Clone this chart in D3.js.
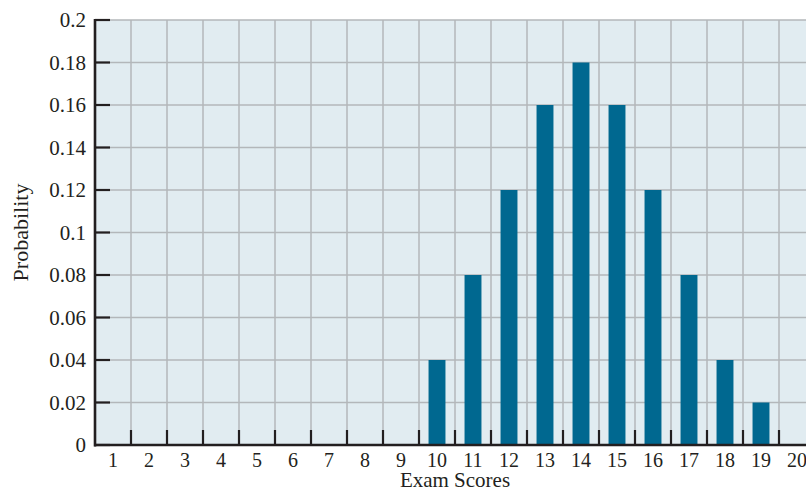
<!DOCTYPE html>
<html>
<head>
<meta charset="utf-8">
<script src="https://cdn.jsdelivr.net/npm/d3@7"></script>
<style>
  body { margin: 0; background: #fff; }
  svg { display: block; }
</style>
</head>
<body>
<div id="chart"></div>
<script>
// Exam score categories and their probabilities
var scores = d3.range(1, 21);
var probs = [0, 0, 0, 0, 0, 0, 0, 0, 0, 0.04, 0.08, 0.12, 0.16, 0.18, 0.16, 0.12, 0.08, 0.04, 0.02, 0];
var yTicks = [0, 0.02, 0.04, 0.06, 0.08, 0.1, 0.12, 0.14, 0.16, 0.18, 0.2];

var width = 806;
var height = 492;
var margin = ({ top: 20, right: -9, bottom: 47, left: 95 });

var bgFill = "#e1ecf1";
var gridStroke = "#b3b7ba";
var barFill = "#006890";
var axisStroke = "#231f20";
var font = "'Liberation Serif', 'Times New Roman', serif";

var data = scores.map(function (s, i) { return { score: s, p: probs[i] }; });

var x = d3.scaleBand()
    .domain(scores)
    .range([margin.left, width - margin.right])
    .paddingInner(0.53)
    .paddingOuter(0.265);

// band edges for the grid (full cells)
var step = x.step();
var cellLeft = d => margin.left + (scores.indexOf(d)) * step;

var y = d3.scaleLinear()
    .domain([0, 0.2])
    .range([height - margin.bottom, margin.top]);

var svg = d3.select("#chart")
    .append("svg")
    .attr("width", width)
    .attr("height", height);

var plotRight = width;
var y0 = y(0);

// plot background
svg.append("rect")
    .attr("x", margin.left)
    .attr("y", margin.top)
    .attr("width", plotRight - margin.left)
    .attr("height", y0 - margin.top)
    .attr("fill", bgFill);

// horizontal grid
svg.append("g")
  .selectAll("line")
  .data(yTicks.slice(1))
  .enter().append("line")
    .attr("x1", margin.left)
    .attr("x2", plotRight)
    .attr("y1", d => y(d))
    .attr("y2", d => y(d))
    .attr("stroke", gridStroke)
    .attr("stroke-width", 1.5);

// vertical grid at cell edges
svg.append("g")
  .selectAll("line")
  .data(scores.slice(1))
  .enter().append("line")
    .attr("x1", d => cellLeft(d))
    .attr("x2", d => cellLeft(d))
    .attr("y1", margin.top)
    .attr("y2", y0)
    .attr("stroke", gridStroke)
    .attr("stroke-width", 1.5);

// bars
svg.append("g")
  .selectAll("rect")
  .data(data.filter(d => d.p > 0))
  .enter().append("rect")
    .attr("x", d => x(d.score))
    .attr("y", d => y(d.p))
    .attr("width", x.bandwidth())
    .attr("height", d => y0 - y(d.p))
    .attr("fill", barFill);

// bottom tick marks at cell edges
svg.append("g")
  .selectAll("line")
  .data(scores.slice(1))
  .enter().append("line")
    .attr("x1", d => cellLeft(d))
    .attr("x2", d => cellLeft(d))
    .attr("y1", y0 - 15)
    .attr("y2", y0)
    .attr("stroke", axisStroke)
    .attr("stroke-width", 2.2);

// left tick marks
svg.append("g")
  .selectAll("line")
  .data(yTicks)
  .enter().append("line")
    .attr("x1", margin.left)
    .attr("x2", margin.left + 15)
    .attr("y1", d => y(d))
    .attr("y2", d => y(d))
    .attr("stroke", axisStroke)
    .attr("stroke-width", 2.2);

// axis lines
svg.append("line")
    .attr("x1", margin.left).attr("x2", margin.left)
    .attr("y1", margin.top - 1).attr("y2", y0 + 1.5)
    .attr("stroke", axisStroke).attr("stroke-width", 2.6);
svg.append("line")
    .attr("x1", margin.left - 1).attr("x2", plotRight)
    .attr("y1", y0).attr("y2", y0)
    .attr("stroke", axisStroke).attr("stroke-width", 2.6);

// y tick labels
svg.append("g")
  .selectAll("text")
  .data(yTicks)
  .enter().append("text")
    .attr("x", margin.left - 9)
    .attr("y", d => y(d))
    .attr("dy", "0.34em")
    .attr("text-anchor", "end")
    .attr("font-family", font)
    .attr("font-size", 21)
    .attr("fill", axisStroke)
    .text(d => d3.format("")(d));

// x tick labels
svg.append("g")
  .selectAll("text")
  .data(scores)
  .enter().append("text")
    .attr("x", d => x(d) + x.bandwidth() / 2)
    .attr("y", y0 + 22)
    .attr("text-anchor", "middle")
    .attr("font-family", font)
    .attr("font-size", 20)
    .attr("fill", axisStroke)
    .text(d => d);

// axis titles
svg.append("text")
    .attr("x", 455)
    .attr("y", 487)
    .attr("text-anchor", "middle")
    .attr("font-family", font)
    .attr("font-size", 21)
    .attr("fill", axisStroke)
    .text("Exam Scores");

svg.append("text")
    .attr("transform", "translate(28," + ((margin.top + y0) / 2) + ") rotate(-90)")
    .attr("text-anchor", "middle")
    .attr("font-family", font)
    .attr("font-size", 22)
    .attr("fill", axisStroke)
    .text("Probability");
</script>
</body>
</html>
